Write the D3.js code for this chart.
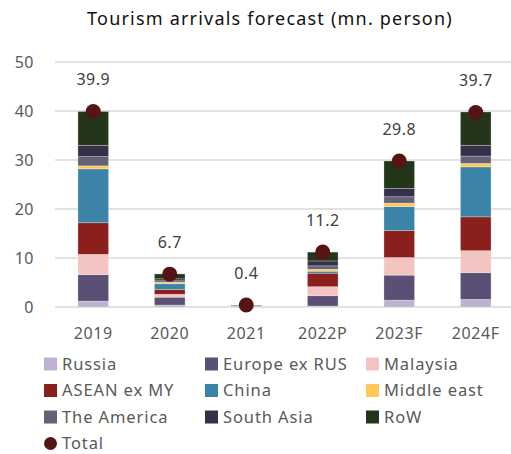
<!DOCTYPE html>
<html lang="en">
<head>
    <meta charset="UTF-8">
    <title>Tourism arrivals forecast</title>
    <script src="https://d3js.org/d3.v7.min.js"></script>
    <style>
        body {margin: 0; background: #fff;}
        text {font-family: "Noto Sans", sans-serif;}
    </style>
</head>
<body>
<script>
    const width = 511;
    const height = 454;

    // data
    const years = ["2019", "2020", "2021", "2022P", "2023F", "2024F"];
    const seriesNames = ["Russia", "Europe ex RUS", "Malaysia", "ASEAN ex MY", "China",
                         "Middle east", "The America", "South Asia", "RoW"];
    const russia    = [1.2, 0.4, 0.0, 0.2, 1.4, 1.55];
    const europe    = [5.4, 1.6, 0.1, 2.1, 5.1, 5.45];
    const malaysia  = [4.15, 0.6, 0.05, 1.85, 3.6, 4.5];
    const asean     = [6.45, 1.0, 0.05, 2.75, 5.5, 6.9];
    const china     = [11.0, 1.15, 0.0, 0.4, 4.9, 10.2];
    const mideast   = [0.6, 0.3, 0.02, 0.4, 0.7, 0.7];
    const america   = [1.9, 0.3, 0.05, 0.7, 1.3, 1.5];
    const southAsia = [2.3, 0.4, 0.05, 1.0, 1.7, 2.2];
    const row       = [6.9, 1.0, 0.08, 1.8, 5.6, 6.8];
    const totals    = [39.9, 6.7, 0.4, 11.2, 29.8, 39.7];
    const yTicks    = [0, 10, 20, 30, 40, 50];

    const seriesValues = [russia, europe, malaysia, asean, china, mideast, america, southAsia, row];
    const colors = ["#bdb3d1", "#5a4f74", "#f4c4c2", "#8a1f1c", "#3b84a8",
                    "#ffc857", "#646276", "#353049", "#23361a"];
    const totalColor = "#561414";

    const table = years.map((y, i) => {
        const r = {year: y, total: totals[i]};
        seriesNames.forEach((s, j) => r[s] = seriesValues[j][i]);
        return r;
    });

    const svg = d3.select("body").append("svg")
            .attr("width", width).attr("height", height);

    const x = d3.scaleBand().domain(years).range([55, 514]).paddingInner(0.6).paddingOuter(0.3);
    const y = d3.scaleLinear().domain([0, 50]).range([307, 62]);

    // title
    svg.append("text")
            .attr("x", 270).attr("y", 25)
            .attr("text-anchor", "middle")
            .style("font-size", "18px")
            .style("letter-spacing", "1.2px")
            .style("fill", "#111")
            .text("Tourism arrivals forecast (mn. person)");

    // gridlines
    svg.append("g").selectAll("line")
            .data(yTicks)
            .enter().append("line")
            .attr("x1", 55).attr("x2", 514)
            .attr("y1", d => y(d)).attr("y2", d => y(d))
            .style("stroke", "#d9d9d9")
            .style("stroke-width", 1.5);

    // y axis labels
    const yAxis = svg.append("g")
            .attr("transform", "translate(34,0)")
            .call(d3.axisLeft(y).tickValues(yTicks).tickSize(0).tickPadding(0));
    yAxis.select(".domain").remove();
    yAxis.selectAll("text")
            .style("font-size", "16px")
            .style("letter-spacing", "0.5px")
            .style("fill", "#595959")
            .style("font-family", "Noto Sans, sans-serif");

    // x axis labels
    const xAxis = svg.append("g")
            .attr("transform", "translate(0,328)")
            .call(d3.axisBottom(x).tickSize(0).tickPadding(0));
    xAxis.select(".domain").remove();
    xAxis.selectAll("text")
            .style("font-size", "16px")
            .style("letter-spacing", "0.6px")
            .style("fill", "#595959")
            .style("font-family", "Noto Sans, sans-serif");

    // stacked bars
    const stack = d3.stack().keys(seriesNames)(table);
    svg.append("g").selectAll("g.series")
            .data(stack)
            .enter().append("g")
            .attr("class", "series")
            .style("fill", (d, i) => colors[i])
            .selectAll("rect")
            .data(d => d)
            .enter().append("rect")
            .attr("x", d => x(d.data.year))
            .attr("width", x.bandwidth())
            .attr("y", d => y(d[1]))
            .attr("height", d => Math.max(0, y(d[0]) - y(d[1])))
            .style("stroke", "rgba(255,255,255,0.35)")
            .style("stroke-width", 0.75);

    // totals
    svg.append("g").selectAll("circle")
            .data(table)
            .enter().append("circle")
            .attr("cx", d => x(d.year) + x.bandwidth() / 2)
            .attr("cy", d => y(d.total))
            .attr("r", 7.5)
            .style("fill", totalColor);

    svg.append("g").selectAll("text")
            .data(table)
            .enter().append("text")
            .attr("x", d => x(d.year) + x.bandwidth() / 2)
            .attr("y", d => y(d.total) - 26)
            .attr("text-anchor", "middle")
            .style("font-size", "16px")
            .style("letter-spacing", "0.5px")
            .style("fill", "#404040")
            .text(d => d.total.toFixed(1));

    // legend
    const legendItems = seriesNames.map((s, i) => ({name: s, color: colors[i], type: "rect"}))
            .concat([{name: "Total", color: totalColor, type: "dot"}]);
    const legend = svg.append("g").selectAll("g.item")
            .data(legendItems)
            .enter().append("g")
            .attr("class", "item")
            .attr("transform", (d, i) => `translate(${44 + (i % 3) * 161},${364 + Math.floor(i / 3) * 26.5})`);
    legend.filter(d => d.type === "rect").append("rect")
            .attr("x", 0).attr("y", -6.5)
            .attr("width", 13).attr("height", 13)
            .style("fill", d => d.color);
    legend.filter(d => d.type === "dot").append("circle")
            .attr("cx", 6.5).attr("cy", 0).attr("r", 6.5)
            .style("fill", d => d.color);
    legend.append("text")
            .attr("x", 18).attr("y", 0)
            .attr("dy", "0.35em")
            .style("font-size", "16.5px")
            .style("letter-spacing", "0.9px")
            .style("fill", "#595959")
            .text(d => d.name);
</script>
</body>
</html>
